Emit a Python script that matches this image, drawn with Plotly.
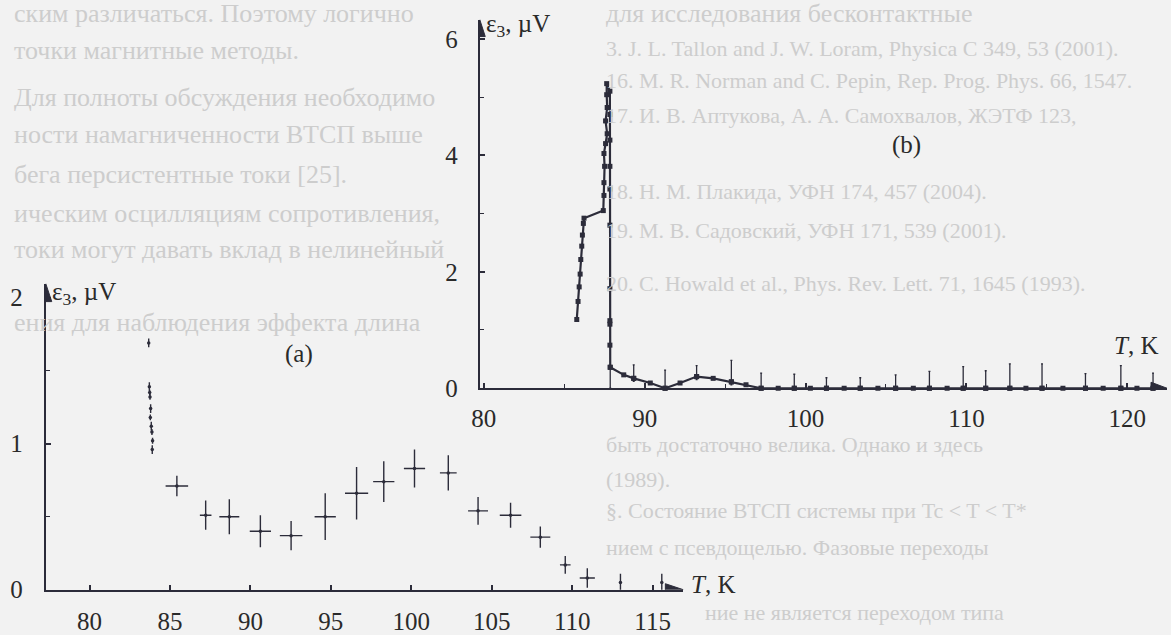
import plotly.graph_objects as go

W, H = 1171, 635
INK = "#2c2c3a"
FONT = "Liberation Serif"

# ---------------- panel (a) data ----------------
a_T = [83.68, 83.72, 83.74, 83.76, 83.80, 83.78, 83.84, 83.88, 83.92, 83.90,
       85.43, 87.22, 88.69, 90.62, 92.53, 94.65, 96.60, 98.29, 100.2, 102.3,
       104.15, 106.17, 108.02, 109.57, 110.94, 113.0, 115.57]
a_E = [1.69, 1.39, 1.35, 1.32, 1.24, 1.18, 1.12, 1.08, 1.02, 0.96,
       0.71, 0.51, 0.50, 0.40, 0.37, 0.50, 0.66, 0.74, 0.83, 0.80,
       0.54, 0.51, 0.36, 0.17, 0.08, 0.05, 0.05]
a_dT = [0, 0, 0, 0, 0, 0, 0, 0, 0, 0,
        0.70, 0.36, 0.62, 0.66, 0.70, 0.66, 0.72, 0.66, 0.66, 0.52,
        0.62, 0.67, 0.62, 0.33, 0.47, 0, 0]
a_dE = [0.03, 0.03, 0.02, 0.02, 0.03, 0.02, 0.03, 0.02, 0.02, 0.03,
        0.07, 0.10, 0.12, 0.11, 0.10, 0.16, 0.18, 0.14, 0.13, 0.12,
        0.095, 0.086, 0.072, 0.06, 0.067, 0.06, 0.06]

# ---------------- panel (b) data ----------------
b_T = [85.78, 85.86, 85.93, 85.99, 86.03, 86.09, 86.13, 86.19, 86.23,
       87.43,
       87.47, 87.47, 87.51, 87.47, 87.57, 87.67, 87.57, 87.67, 87.64, 87.64,
       87.84, 87.84, 87.84, 87.84, 87.84, 87.84, 87.84, 87.84, 87.84, 87.84, 87.86,
       88.7, 89.32, 90.35, 91.27, 92.2, 93.23, 94.26, 95.39, 96.3, 97.24,
       98.3, 99.3, 100.3, 101.3, 102.4, 103.4, 104.5, 105.6, 106.7, 107.7,
       108.8, 109.8, 111.2, 112.7, 113.7, 114.7, 116.0, 117.4, 118.5, 119.6,
       120.6, 121.6]
b_E = [1.18, 1.49, 1.74, 1.96, 2.21, 2.44, 2.63, 2.83, 2.92,
       3.05,
       3.31, 3.53, 3.81, 4.03, 4.20, 4.37, 4.59, 4.82, 5.04, 5.23,
       5.10, 4.70, 4.26, 3.81, 3.42, 2.80, 1.71, 1.16, 1.10, 0.74, 0.36,
       0.23, 0.17, 0.09, 0.00, 0.09, 0.20, 0.17, 0.11, 0.06, 0.00,
       0, 0, 0, 0, 0, 0, 0, 0, 0, 0,
       0, 0, 0, 0, 0, 0, 0, 0, 0, 0,
       0, 0]

eb_T = [87.86, 89.32, 91.27, 93.23, 95.39, 97.24, 99.3, 101.3, 103.4, 105.6,
        107.7, 109.8, 111.2, 112.7, 114.7, 117.4, 119.6, 121.6]
eb_E = [0.36, 0.17, 0.0, 0.20, 0.11, 0, 0, 0, 0, 0,
        0, 0, 0, 0, 0, 0, 0, 0]
eb_up = [0.0, 0.23, 0.31, 0.19, 0.37, 0.26, 0.24, 0.18, 0.18, 0.23,
         0.29, 0.37, 0.30, 0.42, 0.42, 0.25, 0.39, 0.26]
eb_dn = [0.36, 0.05, 0.0, 0.05, 0.05, 0, 0, 0, 0, 0,
         0, 0, 0, 0, 0, 0, 0, 0]

# faint page text showing through the scan: (x px, y px, size, text)
bg_text = [
    (4, 14, 26, "ским различаться. Поэтому логично"),
    (600, 14, 26, "для исследования бесконтактные"),
    (4, 52, 26, "точки магнитные методы."),
    (4, 100, 26, "Для полноты обсуждения необходимо"),
    (4, 138, 26, "ности намагниченности ВТСП выше"),
    (4, 178, 26, "бега персистентные токи [25]."),
    (4, 218, 26, "ическим осцилляциям сопротивления,"),
    (4, 255, 26, "токи могут давать вклад в нелинейный"),
    (4, 330, 26, "ения для наблюдения эффекта длина"),
    (600, 50, 22, "3. J. L. Tallon and J. W. Loram, Physica C 349, 53 (2001)."),
    (600, 82, 22, "16. M. R. Norman and C. Pepin, Rep. Prog. Phys. 66, 1547."),
    (600, 118, 22, "17. И. В. Аптукова, А. А. Самохвалов, ЖЭТФ 123,"),
    (600, 196, 22, "18. Н. М. Плакида, УФН 174, 457 (2004)."),
    (600, 236, 22, "19. М. В. Садовский, УФН 171, 539 (2001)."),
    (600, 290, 22, "20. C. Howald et al., Phys. Rev. Lett. 71, 1645 (1993)."),
    (600, 455, 22, "быть достаточно велика. Однако и здесь"),
    (600, 490, 22, "(1989)."),
    (600, 522, 22, "§. Состояние ВТСП системы при Tc < T < T*"),
    (600, 560, 22, "нием с псевдощелью. Фазовые переходы"),
    (700, 626, 22, "ние не является переходом типа"),
]


def pp(x, y):
    return x / W, 1 - y / H


fig = go.Figure()

fig.add_trace(go.Scatter(
    x=a_T, y=a_E, mode="markers", xaxis="x", yaxis="y",
    marker=dict(size=3.5, color=INK),
    error_x=dict(type="data", array=a_dT, color=INK, thickness=1.4, width=0),
    error_y=dict(type="data", array=a_dE, color=INK, thickness=1.4, width=0),
    showlegend=False, cliponaxis=False))

fig.add_trace(go.Scatter(
    x=b_T, y=b_E, mode="lines+markers", xaxis="x2", yaxis="y2",
    line=dict(color=INK, width=2.2),
    marker=dict(size=5, symbol="square", color=INK),
    showlegend=False, cliponaxis=False))

fig.add_trace(go.Scatter(
    x=eb_T, y=eb_E, mode="markers", xaxis="x2", yaxis="y2",
    marker=dict(size=5, symbol="square", color=INK),
    error_y=dict(type="data", symmetric=False, array=eb_up, arrayminus=eb_dn,
                 color=INK, thickness=1.3, width=1),
    showlegend=False, cliponaxis=False))

# axes geometry (pixels of the reference)
ax_a = dict(x0=38, x1=680, y0=603, y1=290)
ax_b = dict(x0=475, x1=1167, y0=397, y1=20)

common = dict(showgrid=False, zeroline=False, showline=True, linecolor=INK,
              linewidth=2.2, ticks="inside", tickcolor=INK, tickwidth=1.5,
              ticklen=5, tickfont=dict(family=FONT, size=25, color="#2a2a2a"))
minor = lambda d: dict(dtick=d, ticks="inside", ticklen=4, tickcolor=INK, tickwidth=1.3)

fig.update_layout(
    width=W, height=H, margin=dict(l=0, r=0, t=0, b=0),
    paper_bgcolor="#f2f2f2", plot_bgcolor="rgba(0,0,0,0)",
    xaxis=dict(domain=[ax_a["x0"] / W, ax_a["x1"] / W], range=[77.28, 116.91],
               anchor="y", tick0=80, dtick=5, ticklabelstandoff=8, **common),
    yaxis=dict(domain=[1 - ax_a["y0"] / H, 1 - ax_a["y1"] / H], range=[0, 2.096],
               anchor="x", tick0=0, dtick=1, minor=minor(0.5),
               ticklabelstandoff=16, **common),
    xaxis2=dict(domain=[ax_b["x0"] / W, ax_b["x1"] / W], range=[79.75, 122.47],
                anchor="y2", tick0=80, dtick=10, minor=minor(5),
                ticklabelstandoff=7, **common),
    yaxis2=dict(domain=[1 - ax_b["y0"] / H, 1 - ax_b["y1"] / H], range=[0, 6.33],
                anchor="x2", tick0=0, dtick=2, minor=minor(1),
                ticklabelstandoff=15, **common),
)

# arrowheads on the axes (pixel-sized shapes anchored at axis ends)
arrows = [
    ("x", "y", 116.91, 0, "M 0 0 L -18 6 L -18 -6 Z"),
    ("x", "y", 77.28, 2.096, "M 0 0 L -6 -18 L 6 -18 Z"),
    ("x2", "y2", 122.47, 0, "M 0 0 L -16 6 L -16 -6 Z"),
    ("x2", "y2", 79.75, 6.33, "M 0 0 L -5.5 -17 L 5.5 -17 Z"),
]
for xr, yr, xa, ya, path in arrows:
    fig.add_shape(type="path", xref=xr, yref=yr, xsizemode="pixel",
                  ysizemode="pixel", xanchor=xa, yanchor=ya, path=path,
                  fillcolor=INK, line=dict(color=INK, width=1), layer="above")

lab = dict(family=FONT, size=25, color="#2a2a2a")
texts = [
    (42, 300, "ε<sub>3</sub>, µV", "left"),
    (686, 598, "<i>T</i>, K", "left"),
    (293, 362, "(a)", "center"),
    (479, 26, "ε<sub>3</sub>, µV", "left"),
    (1112, 353, "<i>T</i>, K", "left"),
    (905, 148, "(b)", "center"),
]
for x, y, t, anc in texts:
    px, py = pp(x, y)
    fig.add_annotation(x=px, y=py, xref="paper", yref="paper", text=t,
                       showarrow=False, xanchor=anc, yanchor="middle", font=lab)

for x, y, s, t in bg_text:
    px, py = pp(x, y)
    fig.add_annotation(x=px, y=py, xref="paper", yref="paper", text=t,
                       showarrow=False, xanchor="left", yanchor="middle",
                       font=dict(family=FONT, size=s, color="#cdcdcd"))

fig.write_html("out.html")
